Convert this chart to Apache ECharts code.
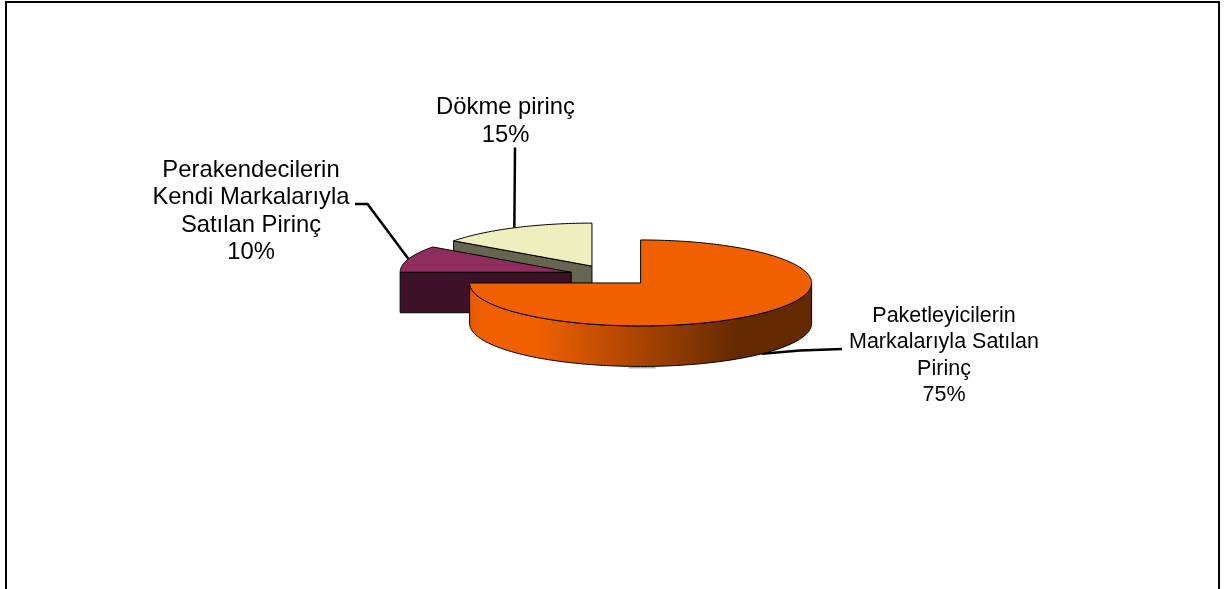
<!DOCTYPE html>
<html>
<head>
<meta charset="utf-8">
<style>html,body{margin:0;padding:0;background:#fff}#c{width:1224px;height:589px}</style>
<script src="https://cdn.jsdelivr.net/npm/echarts@6/dist/echarts.min.js"></script>
</head>
<body>
<div id="c"></div>
<script>
// Data, clockwise from 12 o'clock
const categories = ['Paketleyicilerin\nMarkalarıyla Satılan\nPirinç', 'Perakendecilerin\nKendi Markalarıyla\nSatılan Pirinç', 'Dökme pirinç'];
const shares = [75, 10, 15];

// Styles
const topColors = ['#f06000', '#8f2d5c', '#eeeebe'];
const sideColors = ['#632900', '#3d1229', '#666650'];
// Layout (pie projection and label placement)
const pie = { cx: 611, cy: 275.5, rx: 171, ry: 43, depth: 40.5, explode: 0.245 };
const labelCenters = [[944, 355.5], [251, 211.5], [505.5, 121]];
const labelSizes = [21.5, 23.8, 23.8];
const labelLeading = [26.3, 27.3, 28];
const leaderBends = [
  { depth: true, path: [[800, 350.5], [842, 349]] },
  { depth: false, path: [[367.5, 204], [355, 204]] },
  { depth: false, path: [[515, 147.5]] }
];
const FONT = '"Liberation Sans", Arial, sans-serif';

const total = shares.reduce((a, b) => a + b, 0);
const startShares = shares.map((_, i) => shares.slice(0, i).reduce((a, b) => a + b, 0));

function pt(c, theta, dy) {
  return [c[0] + pie.rx * Math.sin(theta), c[1] - pie.ry * Math.cos(theta) + (dy || 0)];
}
function arcPts(c, a0, a1, dy) {
  const n = Math.max(2, Math.ceil(Math.abs(a1 - a0) / 0.02));
  const out = [];
  for (let k = 0; k <= n; k++) out.push(pt(c, a0 + (a1 - a0) * k / n, dy));
  return out;
}
function renderSlice(params, api) {
  const i = params.dataIndex;
  const v = api.value(0);
  const a0 = startShares[i] / total * 2 * Math.PI;
  const a1 = a0 + v / total * 2 * Math.PI;
  const mid = (a0 + a1) / 2;
  const c = [pie.cx + pie.explode * pie.rx * Math.sin(mid), pie.cy - pie.explode * pie.ry * Math.cos(mid)];
  const base = i === 0 ? 30 : (i === 1 ? 20 : 10);
  const line = { stroke: '#000', lineWidth: 1 };
  const children = [];

  // leader line, behind the slice
  const lead = leaderBends[i];
  const anchor = pt(c, mid, lead.depth ? pie.depth : 0);
  children.push({
    type: 'polyline', z2: 1,
    shape: { points: [anchor].concat(lead.path) },
    style: { stroke: '#000', lineWidth: 2.5, fill: null }
  });

  // cut faces that look towards the viewer
  const faces = [];
  if (Math.sin(a0) < -1e-6) faces.push(a0);
  if (Math.sin(a1) > 1e-6) faces.push(a1);
  faces.forEach(function (t) {
    const e = pt(c, t);
    children.push({
      type: 'polygon', z2: base,
      shape: { points: [c, e, [e[0], e[1] + pie.depth], [c[0], c[1] + pie.depth]] },
      style: Object.assign({ fill: sideColors[i] }, line)
    });
  });

  // outer wall: only the front half of the ellipse
  const f0 = Math.max(a0, Math.PI / 2), f1 = Math.min(a1, 3 * Math.PI / 2);
  if (f1 > f0) {
    const left = c[0] - pie.rx, right = c[0] + pie.rx;
    const pts = arcPts(c, f0, f1, 0).concat(arcPts(c, f1, f0, pie.depth));
    children.push({
      type: 'polygon', z2: base + 1,
      shape: { points: pts },
      style: Object.assign({
        fill: new echarts.graphic.LinearGradient(left, 0, right, 0, [
          { offset: 0, color: '#e45b00' },
          { offset: 0.04, color: topColors[i] },
          { offset: 0.2, color: topColors[i] },
          { offset: 0.79, color: sideColors[i] },
          { offset: 1, color: sideColors[i] }
        ], true)
      }, line)
    });
    // soft grey spot below the wall
    children.push({
      type: 'line', z2: 2,
      shape: { x1: c[0] - 12, y1: c[1] + pie.ry + pie.depth + 1, x2: c[0] + 15, y2: c[1] + pie.ry + pie.depth + 1 },
      style: { stroke: '#a8a8a8', lineWidth: 2 }
    });
  }

  // top face
  children.push({
    type: 'polygon', z2: base + 2,
    shape: { points: [c].concat(arcPts(c, a0, a1, 0)) },
    style: Object.assign({ fill: topColors[i] }, line)
  });

  // label
  children.push({
    type: 'text', z2: 50,
    style: {
      x: labelCenters[i][0], y: labelCenters[i][1],
      text: categories[i] + '\n' + Math.round(v / total * 100) + '%',
      align: 'center', verticalAlign: 'middle',
      font: labelSizes[i] + 'px ' + FONT, lineHeight: labelLeading[i], fill: '#000'
    }
  });
  return { type: 'group', children: children };
}

const chart = echarts.init(document.getElementById('c'), null, { renderer: 'canvas' });
chart.setOption({
  animation: false,
  backgroundColor: '#fff',
  graphic: [
    { type: 'polyline', silent: true, shape: { points: [[6, 589], [6, 2], [1219, 2], [1219, 589]] },
      style: { stroke: '#000', lineWidth: 2, fill: null } }
  ],
  series: [{
    type: 'custom',
    coordinateSystem: 'none',
    silent: true,
    renderItem: renderSlice,
    data: shares.map(v => [v])
  }]
});
</script>
</body>
</html>
